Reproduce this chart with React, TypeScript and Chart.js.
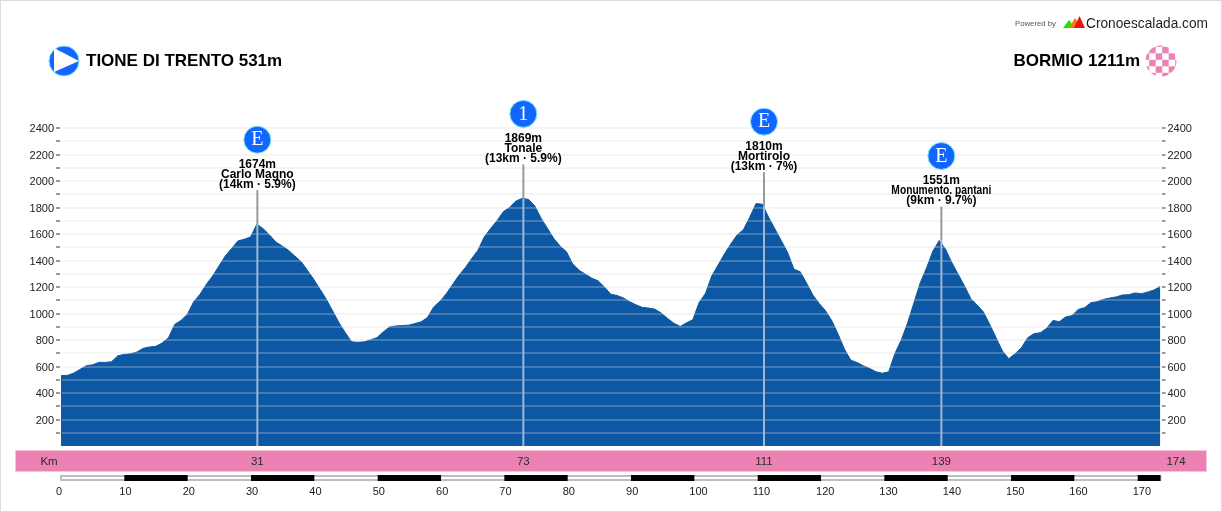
import { useRef, useEffect } from 'react';
import { Chart, registerables } from 'chart.js';

Chart.register(...registerables);

// elevation in metres, readings taken every kmStep km from the start
const elevation = [
  531, 533, 550, 578, 606, 613, 631, 631, 636, 681,
  691, 696, 709, 737, 747, 752, 777, 817, 918, 948,
  994, 1089, 1145, 1220, 1283, 1359, 1434, 1490, 1548, 1560,
  1578, 1674, 1640, 1593, 1540, 1510, 1477, 1434, 1392, 1326,
  1258, 1183, 1107, 1019, 931, 855, 786, 783, 786, 801,
  818, 861, 899, 906, 909, 912, 924, 937, 970, 1050,
  1093, 1151, 1221, 1289, 1347, 1415, 1478, 1579, 1642, 1700,
  1768, 1801, 1849, 1869, 1861, 1811, 1718, 1642, 1566, 1509,
  1466, 1373, 1327, 1297, 1267, 1247, 1201, 1146, 1136, 1118,
  1089, 1066, 1046, 1041, 1033, 1003, 963, 927, 902, 930,
  953, 1084, 1152, 1285, 1366, 1449, 1524, 1592, 1633, 1726,
  1830, 1825, 1726, 1638, 1550, 1461, 1335, 1315, 1230, 1139,
  1076, 1021, 945, 844, 731, 648, 630, 605, 585, 560,
  549, 560, 700, 802, 930, 1082, 1233, 1346, 1472, 1551,
  1485, 1384, 1296, 1208, 1112, 1064, 1011, 918, 817, 717,
  659, 696, 742, 817, 848, 855, 888, 948, 938, 974,
  984, 1031, 1044, 1082, 1089, 1107, 1117, 1125, 1140, 1142,
  1155, 1150, 1162, 1178, 1205,
];
const kmStep = 0.9976;
const elevationTicks = [100, 200, 300, 400, 500, 600, 700, 800, 900, 1000, 1100, 1200, 1300, 1400, 1500, 1600, 1700, 1800, 1900, 2000, 2100, 2200, 2300, 2400];

const climbKm = [31, 73, 111, 139];
const climbAlt = [1674, 1869, 1810, 1551];
const climbNames = ['Carlo Magno', 'Tonale', 'Mortirolo', 'Monumento. pantani'];
const climbStats = ['(14km · 5.9%)', '(13km · 5.9%)', '(13km · 7%)', '(9km · 9.7%)'];
const climbCats = ['E', '1', 'E', 'E'];

const startLabel = 'TIONE DI TRENTO 531m';
const finishLabel = 'BORMIO 1211m';
const totalKm = 174;
const axisEndKm = 173.6;

const BLUE = '#0c58a4';
const PINK = '#ec82b4';
const BADGE = '#1166ff';
const SANS = '"Liberation Sans", Arial, sans-serif';

function badge(ctx: CanvasRenderingContext2D, x: number, y: number, r: number) {
  ctx.beginPath();
  ctx.arc(x, y, r, 0, Math.PI * 2);
  ctx.fillStyle = BADGE;
  ctx.fill();
  ctx.lineWidth = 1;
  ctx.strokeStyle = '#7fe3ff';
  ctx.stroke();
}

const furniture = {
  id: 'furniture',
  afterDraw(chart: Chart) {
    const ctx = chart.ctx;
    const xs = chart.scales.x;
    const ys = chart.scales.y;
    const bottom = chart.chartArea.bottom;
    ctx.save();

    // page frame
    ctx.strokeStyle = '#dcdcdc';
    ctx.lineWidth = 2;
    ctx.strokeRect(0, 0, 1222, 512);

    // climb markers, all hung off the scales
    ctx.textAlign = 'center';
    ctx.textBaseline = 'middle';
    climbKm.forEach((km, i) => {
      const x = xs.getPixelForValue(km);
      const peak = ys.getPixelForValue(climbAlt[i]);
      const top = peak - 34;
      ctx.lineWidth = 2;
      ctx.strokeStyle = '#9a9a9a';
      ctx.beginPath();
      ctx.moveTo(x, top);
      ctx.lineTo(x, peak);
      ctx.stroke();
      ctx.strokeStyle = '#9db8d6';
      ctx.beginPath();
      ctx.moveTo(x, peak);
      ctx.lineTo(x, bottom);
      ctx.stroke();

      ctx.fillStyle = '#000';
      ctx.font = `bold 12px ${SANS}`;
      ctx.fillText(`${climbAlt[i]}m`, x, top - 26);
      ctx.fillText(climbNames[i], x, top - 16, 100);
      ctx.fillText(climbStats[i], x, top - 6);

      badge(ctx, x, top - 50.5, 13.5);
      ctx.fillStyle = '#fff';
      ctx.font = '20px "Liberation Serif", serif';
      ctx.fillText(climbCats[i], x, top - 50);
    });

    // start and finish
    badge(ctx, 64, 61, 15);
    ctx.fillStyle = '#fff';
    ctx.beginPath();
    ctx.moveTo(54, 48);
    ctx.lineTo(79, 61);
    ctx.lineTo(54, 72);
    ctx.closePath();
    ctx.fill();

    ctx.save();
    ctx.beginPath();
    ctx.arc(1161, 61, 15.5, 0, Math.PI * 2);
    ctx.clip();
    ctx.fillStyle = PINK;
    for (let r = 0; r < 6; r++) {
      for (let c = 0; c < 6; c++) {
        if ((r + c) % 2 === 0) ctx.fillRect(1142.7 + c * 6.5, 40.3 + r * 6.5, 6.5, 6.5);
      }
    }
    ctx.restore();

    ctx.fillStyle = '#000';
    ctx.font = `bold 17px ${SANS}`;
    ctx.textAlign = 'left';
    ctx.fillText(startLabel, 86, 61);
    ctx.textAlign = 'right';
    ctx.fillText(finishLabel, 1140, 61);

    // logo
    ctx.textAlign = 'left';
    ctx.fillStyle = '#555';
    ctx.font = `8px ${SANS}`;
    ctx.fillText('Powered by', 1015, 23.5, 41);
    ctx.fillStyle = '#1f1f1f';
    ctx.font = `15.5px ${SANS}`;
    ctx.fillText('Cronoescalada.com', 1086, 24, 122);
    [['#22e000', 1063, 1075, 20], ['#f07a10', 1069, 1081, 18], ['#f01010', 1074, 1085, 16]].forEach(([c, a, b, t]) => {
      ctx.fillStyle = c as string;
      ctx.beginPath();
      ctx.moveTo(a as number, 28);
      ctx.lineTo(((a as number) + (b as number)) / 2, t as number);
      ctx.lineTo(b as number, 28);
      ctx.closePath();
      ctx.fill();
    });

    // km band
    ctx.fillStyle = PINK;
    ctx.strokeStyle = '#f7c4dc';
    ctx.lineWidth = 1;
    ctx.fillRect(15.5, 450.5, 1191, 21);
    ctx.strokeRect(15.5, 450.5, 1191, 21);
    ctx.fillStyle = '#2a2a2a';
    ctx.font = `11.5px ${SANS}`;
    ctx.textAlign = 'center';
    ctx.fillText('Km', 49, 461.5);
    climbKm.forEach(km => ctx.fillText(String(km), xs.getPixelForValue(km), 461.5));
    ctx.fillText(String(totalKm), 1176, 461.5);

    // scale bar, black on the odd tens
    const x0 = xs.getPixelForValue(0);
    const x1 = xs.getPixelForValue(axisEndKm);
    ctx.strokeStyle = '#bdbdbd';
    ctx.lineWidth = 2;
    ctx.strokeRect(x0, 476, x1 - x0, 4);
    ctx.fillStyle = '#000';
    for (let km = 10; km < axisEndKm; km += 20) {
      const a = xs.getPixelForValue(km);
      const b = xs.getPixelForValue(Math.min(km + 10, axisEndKm));
      ctx.fillRect(a, 475, b - a, 6);
    }
    ctx.restore();
  },
};

export default function App() {
  const canvasRef = useRef<HTMLCanvasElement>(null);

  useEffect(() => {
    if (!canvasRef.current) return;
    document.body.style.margin = '0';

    const yAxis = (position: 'left' | 'right', onArea: boolean) => ({
      type: 'linear' as const,
      position,
      min: 0,
      max: 2755,
      afterBuildTicks: (s: any) => { s.ticks = elevationTicks.map(value => ({ value })); },
      afterFit: (s: any) => { s.width = position === 'left' ? 61 : 61.5; },
      border: { color: '#9a9a9a', width: 2 },
      grid: {
        drawOnChartArea: onArea,
        color: 'rgba(217,217,217,0.27)',
        lineWidth: 2,
        z: 1,
        tickColor: '#9a9a9a',
        tickWidth: 2,
        tickLength: 5,
      },
      ticks: {
        autoSkip: false,
        padding: 2,
        labelOffset: 1,
        color: '#222',
        font: { family: SANS, size: 11 },
        callback: (v: any) => (v % 200 === 0 ? String(v) : ''),
      },
    });

    const chart = new Chart(canvasRef.current, {
      type: 'line',
      data: {
        datasets: [{
          data: elevation.map((y, i) => ({ x: i * kmStep, y })),
          borderColor: BLUE,
          backgroundColor: BLUE,
          borderWidth: 1,
          fill: 'origin',
          pointRadius: 0,
          tension: 0,
          yAxisID: 'y',
        }],
      },
      options: {
        responsive: false,
        animation: false,
        devicePixelRatio: 1,
        layout: { padding: { top: 81 } },
        plugins: { legend: { display: false }, tooltip: { enabled: false } },
        scales: {
          x: {
            type: 'linear',
            min: 0,
            max: axisEndKm,
            afterFit: (s: any) => { s.height = 66; },
            border: { display: false },
            grid: { display: false },
            ticks: {
              stepSize: 10,
              includeBounds: false,
              maxRotation: 0,
              autoSkip: false,
              padding: 31,
              align: 'start',
              labelOffset: -5,
              color: '#222',
              font: { family: SANS, size: 11 },
            },
          },
          y: yAxis('left', true),
          y2: yAxis('right', false),
        },
      },
      plugins: [furniture],
    });
    return () => { chart.destroy(); };
  }, []);

  return (
    <div style={{ position: 'absolute', left: 0, top: 0, width: 1222, height: 512, background: '#fff' }}>
      <canvas ref={canvasRef} width={1222} height={512} style={{ display: 'block' }} />
    </div>
  );
}
